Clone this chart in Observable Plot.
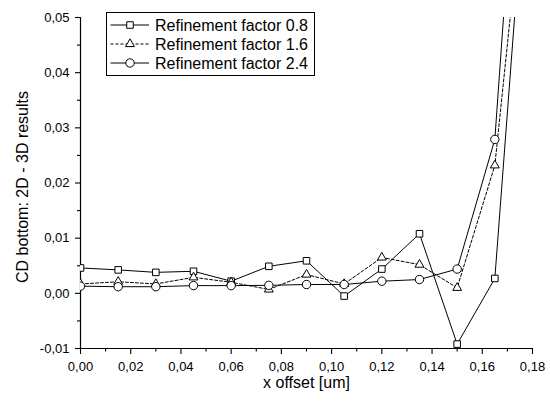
<!DOCTYPE html>
<html>
<head>
<meta charset="utf-8">
<script src="https://cdn.jsdelivr.net/npm/d3@7"></script>
<script src="https://cdn.jsdelivr.net/npm/@observablehq/plot@0.6"></script>
<style>
  body { margin: 0; background: #fff; }
  #wrap { position: relative; width: 550px; height: 403px; font-family: "Liberation Sans", Arial, sans-serif; }
  #legend { position: absolute; left: 106px; top: 12px; }
</style>
</head>
<body>
<div id="wrap"></div>
<script>
const xs = [0, 0.015, 0.03, 0.045, 0.06, 0.075, 0.09, 0.105, 0.12, 0.135, 0.15, 0.165, 0.18];
const s08 = [0.0046, 0.00425, 0.0038, 0.004, 0.0022, 0.0049, 0.0059, -0.0005, 0.0044, 0.0108, -0.0092, 0.0027, 0.093];
const s16 = [0.0017, 0.0021, 0.0017, 0.0029, 0.002, 0.0007, 0.0034, 0.0017, 0.0065, 0.0052, 0.001, 0.0232, 0.089];
const s24 = [0.0013, 0.0012, 0.0012, 0.0014, 0.0014, 0.00145, 0.0016, 0.0016, 0.0022, 0.0025, 0.0044, 0.0279, 0.124];
const seriesNames = ["Refinement factor 0.8", "Refinement factor 1.6", "Refinement factor 2.4"];
const xTicks = [0, 0.02, 0.04, 0.06, 0.08, 0.10, 0.12, 0.14, 0.16, 0.18];
const xMinorTicks = [0.01, 0.03, 0.05, 0.07, 0.09, 0.11, 0.13, 0.15, 0.17];
const yTicks = [-0.01, 0, 0.01, 0.02, 0.03, 0.04, 0.05];
const yMinorTicks = [-0.005, 0.005, 0.015, 0.025, 0.035, 0.045];
const xDomain = [0, 0.18];
const yDomain = [-0.01, 0.05];

const fmt = v => d3.format(".2f")(v).replace(".", ",").replace("−", "-");
const mk = ys => xs.map((x, i) => ({x, y: ys[i]}));
const d08 = mk(s08), d16 = mk(s16), d24 = mk(s24);

const symbols = ["square", "triangle", "circle"];
const radii = [3.7, 3.3, 4.2];
const dashes = [null, "3,2", null];

const chart = Plot.plot({
  width: 550,
  height: 403,
  marginLeft: 80,
  marginRight: 18,
  marginTop: 17,
  marginBottom: 55,
  style: {fontFamily: "'Liberation Sans', Arial, sans-serif", background: "#fff", color: "#000"},
  x: {domain: xDomain},
  y: {domain: yDomain},
  marks: [
    Plot.axisX({ticks: xTicks, tickSize: 6, tickPadding: 7, tickFormat: fmt, fontSize: 13, label: null, strokeWidth: 1.1}),
    Plot.axisX({ticks: xMinorTicks, tickSize: 3.5, tickFormat: () => "", label: null, strokeWidth: 1.1}),
    Plot.axisY({ticks: yTicks, tickSize: 5, tickPadding: 6, tickFormat: fmt, fontSize: 13, label: null, strokeWidth: 1.1}),
    Plot.axisY({ticks: yMinorTicks, tickSize: 3, tickFormat: () => "", label: null, strokeWidth: 1.1}),
    Plot.ruleX([xDomain[0]], {stroke: "#000", strokeWidth: 1.2}),
    Plot.ruleY([yDomain[0]], {stroke: "#000", strokeWidth: 1.2}),
    Plot.line(d08, {x: "x", y: "y", stroke: "#000", strokeWidth: 1, clip: true}),
    Plot.line(d16, {x: "x", y: "y", stroke: "#000", strokeWidth: 1, strokeDasharray: "3,2", clip: true}),
    Plot.line(d24, {x: "x", y: "y", stroke: "#000", strokeWidth: 1, clip: true}),
    Plot.dot(d08, {x: "x", y: "y", symbol: () => "square", r: radii[0], stroke: "#000", fill: "#fff", strokeWidth: 1, clip: true}),
    Plot.dot(d16, {x: "x", y: "y", symbol: () => "triangle", r: radii[1], stroke: "#000", fill: "#fff", strokeWidth: 1, clip: true}),
    Plot.dot(d24, {x: "x", y: "y", symbol: () => "circle", r: radii[2], stroke: "#000", fill: "#fff", strokeWidth: 1, clip: true}),
    Plot.text(["x offset [um]"], {frameAnchor: "bottom", lineAnchor: "middle", dy: 34, fontSize: 16, fill: "#000"}),
    Plot.text(["CD bottom: 2D - 3D results"], {frameAnchor: "left", lineAnchor: "middle", textAnchor: "middle", rotate: -90, dx: -58, dy: 4, fontSize: 16, fill: "#000"})
  ]
});
const wrap = document.getElementById("wrap");
wrap.appendChild(chart);

// Legend overlay
const lw = 209, lh = 64;
const leg = d3.create("svg").attr("id", "legend").attr("width", lw).attr("height", lh)
  .style("font-family", "'Liberation Sans', Arial, sans-serif");
leg.append("rect").attr("x", 0.5).attr("y", 0.5).attr("width", lw - 1).attr("height", lh - 1)
  .attr("fill", "#fff").attr("stroke", "#000").attr("stroke-width", 1);
const d3sym = {square: d3.symbolSquare, triangle: d3.symbolTriangle, circle: d3.symbolCircle};
seriesNames.forEach((name, i) => {
  const cy = 13 + i * 19;
  const g = leg.append("g");
  g.append("line").attr("x1", 4.5).attr("x2", 43).attr("y1", cy).attr("y2", cy)
    .attr("stroke", "#000").attr("stroke-width", 1).attr("stroke-dasharray", dashes[i]);
  g.append("path").attr("d", d3.symbol(d3sym[symbols[i]], Math.PI * radii[i] * radii[i])())
    .attr("transform", `translate(24,${cy})`).attr("fill", "#fff").attr("stroke", "#000");
  g.append("text").attr("x", 49).attr("y", cy).attr("dy", "0.35em").attr("font-size", 16).text(name);
});
wrap.appendChild(leg.node());
</script>
</body>
</html>
